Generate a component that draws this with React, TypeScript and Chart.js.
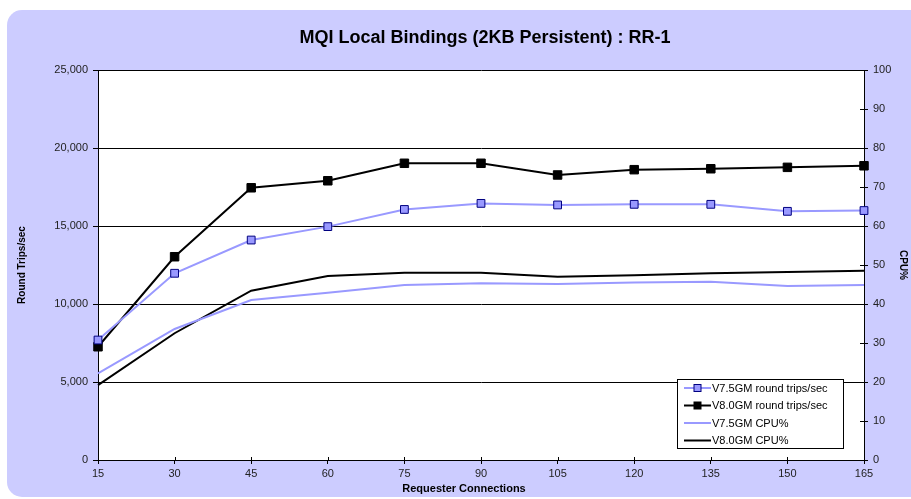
import React, { useEffect, useRef } from 'react';
import { Chart, registerables } from 'chart.js';

Chart.register(...registerables);

const chartTitle = 'MQI Local Bindings (2KB Persistent) : RR-1';
const xTitle = 'Requester Connections';
const leftTitle = 'Round Trips/sec';
const rightTitle = 'CPU%';

const connections = ['15', '30', '45', '60', '75', '90', '105', '120', '135', '150', '165'];
const roundTripTickLabels = ['0', '5,000', '10,000', '15,000', '20,000', '25,000'];
const cpuTickLabels = ['0', '10', '20', '30', '40', '50', '60', '70', '80', '90', '100'];

const v75RoundTrips = [7690, 11970, 14100, 14960, 16060, 16450, 16350, 16390, 16390, 15940, 15990];
const v80RoundTrips = [7260, 13030, 17450, 17900, 19020, 19020, 18270, 18610, 18670, 18760, 18860];
const v75Cpu = [22.2, 33.6, 41.0, 42.9, 44.9, 45.3, 45.1, 45.5, 45.7, 44.6, 44.9];
const v80Cpu = [19.2, 32.5, 43.4, 47.2, 48.0, 48.0, 47.0, 47.4, 47.9, 48.2, 48.5];

const seriesNames = [
  'V7.5GM round trips/sec',
  'V8.0GM round trips/sec',
  'V7.5GM CPU%',
  'V8.0GM CPU%',
];

const FONT = '"Liberation Sans", Arial, sans-serif';
const BLUE = '#9999ff';
const NAVY = '#000080';

const panelPlugin = {
  id: 'panelBg',
  beforeDraw(chart: any) {
    const { ctx, chartArea } = chart;
    ctx.save();
    ctx.fillStyle = '#ffffff';
    ctx.fillRect(0, 0, chart.width, chart.height);
    ctx.fillStyle = '#ccccff';
    ctx.beginPath();
    ctx.roundRect(7, 10, chart.width + 20, chart.height - 12, 15);
    ctx.fill();
    ctx.fillStyle = '#ffffff';
    ctx.fillRect(chartArea.left, chartArea.top, chartArea.right - chartArea.left, chartArea.bottom - chartArea.top);
    ctx.restore();
  },
};

const textPlugin = {
  id: 'titles',
  afterDraw(chart: any) {
    const { ctx } = chart;
    ctx.save();
    ctx.fillStyle = '#000';
    ctx.textAlign = 'center';
    ctx.textBaseline = 'middle';
    ctx.font = `bold 18px ${FONT}`;
    ctx.fillText(chartTitle, 485, 38);
    ctx.font = `bold 11px ${FONT}`;
    ctx.fillText(xTitle, 464, 489);
    ctx.restore();
  },
};

const innerTicksPlugin = {
  id: 'innerTicks',
  beforeDatasetsDraw(chart: any) {
    const { ctx, chartArea, scales } = chart;
    ctx.save();
    ctx.strokeStyle = '#000';
    ctx.lineWidth = 1;
    ctx.beginPath();
    const xs = scales.x;
    for (let i = 0; i < connections.length; i++) {
      const px = Math.round(xs.getPixelForValue(i)) + 0.5;
      ctx.moveTo(px, chartArea.bottom);
      ctx.lineTo(px, chartArea.bottom - 3);
    }
    const y1 = scales.y1;
    for (let i = 0; i < cpuTickLabels.length; i++) {
      const py = Math.round(y1.getPixelForValue(i * 10)) + 0.5;
      ctx.moveTo(chartArea.right, py);
      ctx.lineTo(chartArea.right - 4, py);
    }
    ctx.stroke();
    ctx.restore();
  },
};

const legendPlugin = {
  id: 'boxLegend',
  afterDraw(chart: any) {
    const { ctx } = chart;
    const x0 = 677;
    const y0 = 379;
    const w = 166;
    const h = 69;
    ctx.save();
    ctx.fillStyle = '#ffffff';
    ctx.fillRect(x0, y0, w, h);
    ctx.strokeStyle = '#000';
    ctx.lineWidth = 1;
    ctx.strokeRect(x0 + 0.5, y0 + 0.5, w, h);
    const rowGap = 17.5;
    chart.data.datasets.forEach((ds: any, i: number) => {
      const cy = y0 + 9 + i * rowGap;
      ctx.strokeStyle = ds.borderColor;
      ctx.lineWidth = 2;
      ctx.beginPath();
      ctx.moveTo(x0 + 7, cy);
      ctx.lineTo(x0 + 34, cy);
      ctx.stroke();
      if (ds.pointRadius > 0) {
        const s = 7;
        ctx.fillStyle = ds.pointBackgroundColor;
        ctx.strokeStyle = ds.pointBorderColor;
        ctx.lineWidth = 1;
        ctx.fillRect(x0 + 20.5 - s / 2, cy - s / 2, s, s);
        ctx.strokeRect(x0 + 20.5 - s / 2, cy - s / 2, s, s);
      }
      ctx.fillStyle = '#000';
      ctx.font = `11px ${FONT}`;
      ctx.textBaseline = 'middle';
      ctx.textAlign = 'left';
      ctx.fillText(ds.label, x0 + 35, cy + 0.5);
    });
    ctx.restore();
  },
};

export default function App() {
  const canvasRef = useRef<HTMLCanvasElement | null>(null);

  useEffect(() => {
    const canvas = canvasRef.current;
    if (!canvas) return;
    const tickFont = { family: FONT, size: 11 };
    const chart = new Chart(canvas, {
      type: 'line',
      data: {
        labels: connections,
        datasets: [
          {
            label: seriesNames[0],
            data: v75RoundTrips,
            yAxisID: 'y',
            borderColor: BLUE,
            backgroundColor: BLUE,
            borderWidth: 2,
            pointStyle: 'rect',
            pointRadius: 5.5,
            pointBackgroundColor: BLUE,
            pointBorderColor: NAVY,
            pointBorderWidth: 1,
            tension: 0,
          },
          {
            label: seriesNames[1],
            data: v80RoundTrips,
            yAxisID: 'y',
            borderColor: '#000000',
            backgroundColor: '#000000',
            borderWidth: 2,
            pointStyle: 'rect',
            pointRadius: 6,
            pointBackgroundColor: '#000000',
            pointBorderColor: '#000000',
            pointBorderWidth: 1,
            tension: 0,
          },
          {
            label: seriesNames[2],
            data: v75Cpu,
            yAxisID: 'y1',
            borderColor: BLUE,
            backgroundColor: BLUE,
            borderWidth: 2,
            pointRadius: 0,
            tension: 0,
          },
          {
            label: seriesNames[3],
            data: v80Cpu,
            yAxisID: 'y1',
            borderColor: '#000000',
            backgroundColor: '#000000',
            borderWidth: 2,
            pointRadius: 0,
            tension: 0,
          },
        ],
      },
      options: {
        responsive: false,
        animation: false,
        events: [],
        layout: { padding: { top: 70, left: 0, right: 0, bottom: 0 } },
        plugins: {
          legend: { display: false },
          tooltip: { enabled: false },
          title: { display: false },
        },
        scales: {
          x: {
            type: 'category',
            offset: false,
            grid: { display: true, drawOnChartArea: false, drawTicks: true, tickLength: 4, color: '#000' },
            border: { display: true, color: '#000', width: 1 },
            ticks: { font: tickFont, color: '#222', padding: 3, maxRotation: 0, autoSkip: false },
            afterFit(s: any) {
              s.height = 39;
            },
          },
          y: {
            position: 'left',
            min: 0,
            max: 25000,
            grid: { color: '#000', tickLength: 5 },
            border: { display: true, color: '#000', width: 1 },
            ticks: {
              stepSize: 5000,
              font: tickFont,
              color: '#222',
              padding: 5,
              callback: (_v: any, i: number) => roundTripTickLabels[i],
            },
            title: {
              display: true,
              text: leftTitle,
              color: '#000',
              font: { family: FONT, size: 10, weight: 'bold' },
              padding: { top: 16, bottom: 0 },
            },
            afterFit(s: any) {
              s.width = 98;
            },
          },
          y1: {
            position: 'right',
            min: 0,
            max: 100,
            grid: { drawOnChartArea: false, tickLength: 4, color: '#000' },
            border: { display: true, color: '#000', width: 1 },
            ticks: {
              stepSize: 10,
              font: tickFont,
              color: '#222',
              padding: 5,
              callback: (_v: any, i: number) => cpuTickLabels[i],
            },
            title: {
              display: true,
              text: rightTitle,
              color: '#000',
              font: { family: FONT, size: 10, weight: 'bold' },
              padding: { top: 2, bottom: 0 },
            },
            afterFit(s: any) {
              s.width = 47;
            },
          },
        },
      } as any,
      plugins: [panelPlugin, innerTicksPlugin, legendPlugin, textPlugin],
    });
    return () => chart.destroy();
  }, []);

  return (
    <div style={{ position: 'absolute', left: 0, top: 0, width: 911, height: 499 }}>
      <canvas ref={canvasRef} width={911} height={499} style={{ display: 'block' }} />
    </div>
  );
}
